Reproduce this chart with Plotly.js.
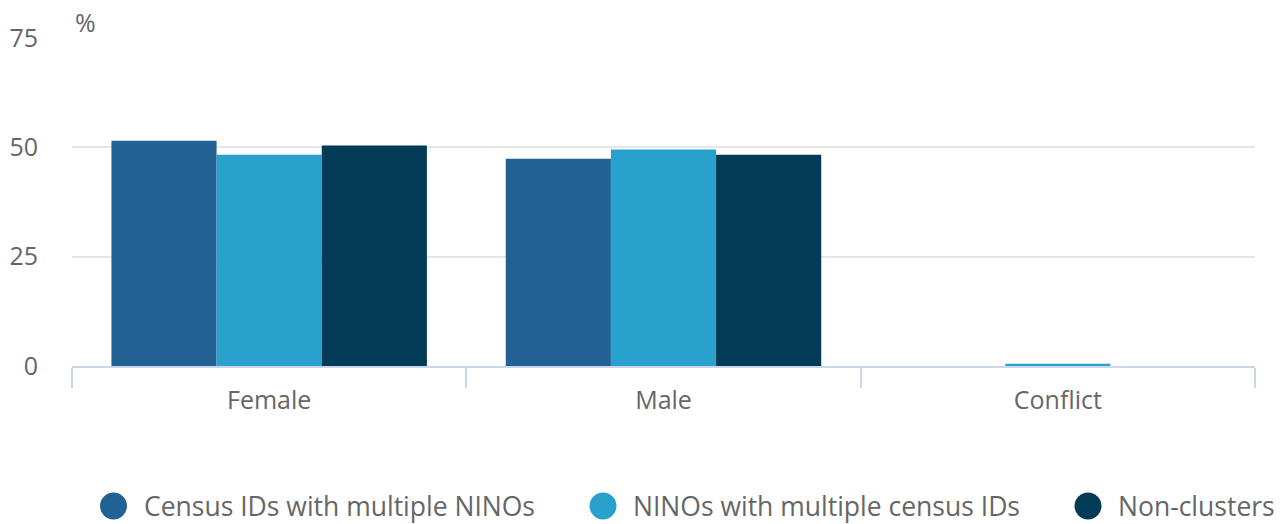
<!DOCTYPE html>
<html>
<head>
<meta charset="utf-8">
<script src="https://cdn.plot.ly/plotly-3.0.1.min.js"></script>
<style>html,body{margin:0;padding:0;background:#fff;}#chart{width:1280px;height:524px;}</style>
</head>
<body>
<div id="chart"></div>
<script>
var categories = ["Female", "Male", "Conflict"];
var seriesNames = ["Census IDs with multiple NINOs", "NINOs with multiple census IDs", "Non-clusters"];
var censusMulti = [51.5, 47.4, 0];
var ninoMulti = [48.3, 49.5, 0.5];
var nonClusters = [50.4, 48.3, 0];
var seriesColors = ["#226193", "#28a1cc", "#033b56"];
var yTicks = [0, 25, 50, 75];

var seriesValues = [censusMulti, ninoMulti, nonClusters];
var traces = seriesValues.map(function (vals, i) {
  return {
    type: "bar",
    name: seriesNames[i],
    x: categories,
    y: vals,
    marker: { color: seriesColors[i], line: { width: 0 } },
    showlegend: false,
    hoverinfo: "x+y+name"
  };
});

var legendX = [113.5, 603, 1088];
var shapes = [];
var annotations = [
  { text: "%", xref: "paper", yref: "paper", x: 0, y: 1, xanchor: "left", yanchor: "bottom",
    xshift: 1, yshift: -3, showarrow: false, font: { family: "Open Sans", size: 25, color: "#666666" } }
];
legendX.forEach(function (px, i) {
  var fx = (px - 72) / (1255 - 72);
  shapes.push({
    type: "circle", xref: "paper", yref: "paper",
    xsizemode: "pixel", ysizemode: "pixel",
    xanchor: fx, yanchor: (366 - 506) / 328,
    x0: -13.5, x1: 13.5, y0: -13.5, y1: 13.5,
    fillcolor: seriesColors[i], line: { width: 0 }
  });
  annotations.push({
    text: seriesNames[i], xref: "paper", yref: "paper",
    x: (px + 28 - 72) / (1255 - 72), y: (366 - 506) / 328,
    xanchor: "left", yanchor: "middle", showarrow: false,
    font: { family: "Open Sans", size: 26.5, color: "#666666" }
  });
});

var layout = {
  width: 1280, height: 524,
  margin: { l: 72, r: 25, t: 38, b: 158 },
  paper_bgcolor: "#ffffff", plot_bgcolor: "#ffffff",
  barmode: "group", bargap: 0.2, bargroupgap: 0,
  font: { family: "Open Sans", size: 25, color: "#666666" },
  xaxis: {
    type: "category",
    showgrid: false, zeroline: false,
    showline: true, linecolor: "#ccd6eb", linewidth: 2,
    ticks: "outside", tickson: "boundaries", ticklen: 20, tickwidth: 2, tickcolor: "#ccd6eb",
    ticklabelstandoff: 11,
    tickfont: { family: "Open Sans", size: 25, color: "#666666" }
  },
  yaxis: {
    range: [0, 75], tickvals: yTicks, ticktext: yTicks.map(String),
    showgrid: true, gridcolor: "#e6e6e6", gridwidth: 2,
    zeroline: false, showline: false, ticks: "",
    ticklabelstandoff: 33,
    tickfont: { family: "Open Sans", size: 25, color: "#666666" }
  },
  shapes: shapes,
  annotations: annotations,
  showlegend: false
};

Plotly.newPlot("chart", traces, layout, { displayModeBar: false, staticPlot: true });
</script>
</body>
</html>
